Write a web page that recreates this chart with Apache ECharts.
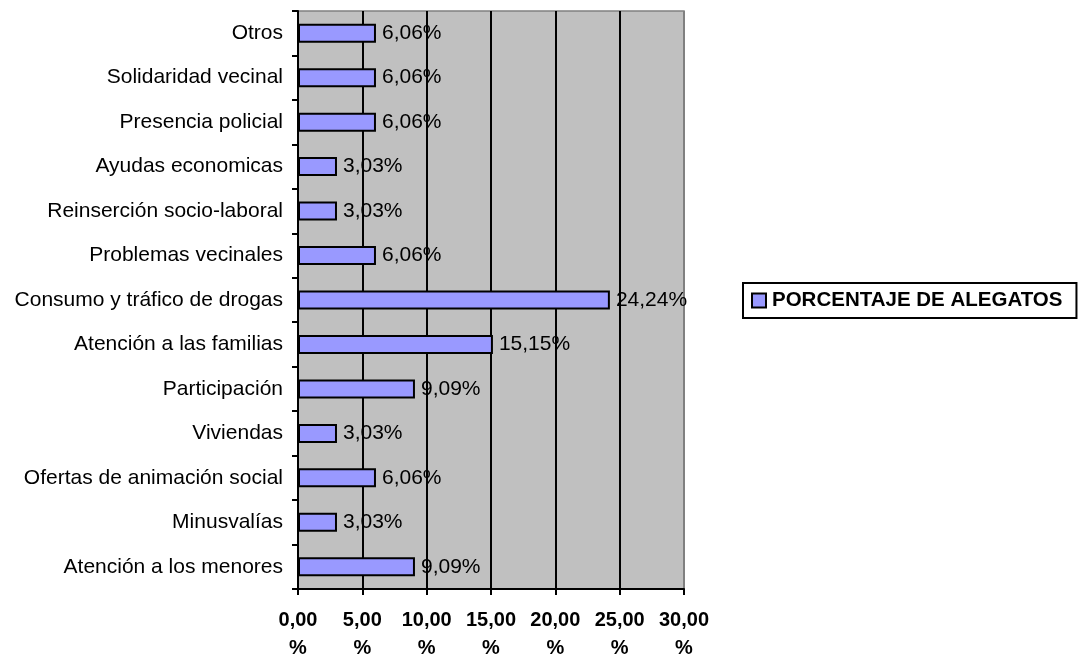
<!DOCTYPE html>
<html>
<head>
<meta charset="utf-8">
<script src="https://cdn.jsdelivr.net/npm/echarts@6/dist/echarts.min.js"></script>
<style>
html,body{margin:0;padding:0;background:#fff;overflow:hidden;}
#c{width:1079px;height:656px;}
</style>
</head>
<body>
<div id="c"></div>
<script>
var categories = ["Atención a los menores","Minusvalías","Ofertas de animación social","Viviendas","Participación","Atención a las familias","Consumo y tráfico de drogas","Problemas vecinales","Reinserción socio-laboral","Ayudas economicas","Presencia policial","Solidaridad vecinal","Otros"];
var values = [9.09,3.03,6.06,3.03,9.09,15.15,24.24,6.06,3.03,3.03,6.06,6.06,6.06];
var seriesName = "PORCENTAJE DE ALEGATOS";
var xMin = 0, xMax = 30, xStep = 5;

function fmt(v){ return v.toFixed(2).replace('.', ','); }

var chart = echarts.init(document.getElementById('c'), null, {renderer:'canvas'});
chart.setOption({
  animation: false,
  textStyle: {fontFamily: 'Liberation Sans, Arial, sans-serif'},
  grid: {left: 298, top: 11, width: 386, height: 578, show: true, backgroundColor: '#C0C0C0', borderColor: '#808080', borderWidth: 1.5, containLabel: false, outerBoundsMode: 'none'},
  legend: {
    show: true, data: [seriesName], left: 743, top: 283,
    orient: 'vertical',
    borderColor: '#000', borderWidth: 2, padding: [7, 14, 7, 8],
    itemWidth: 14, itemHeight: 14, itemGap: 0,
    icon: 'rect',
    textStyle: {fontSize: 20.5, fontWeight: 'bold', color: '#000', fontFamily: 'Liberation Sans, Arial, sans-serif', padding: [0,0,0,1]}
  },
  xAxis: {
    type: 'value', min: xMin, max: xMax, interval: xStep,
    axisLine: {show: true, lineStyle: {color: '#000', width: 2}},
    axisTick: {show: true, length: 6, lineStyle: {color: '#000', width: 2}},
    splitLine: {show: true, lineStyle: {color: ['#000','#000','#000','#000','#000','#000','#808080'], width: 2}},
    axisLabel: {
      margin: 17, fontSize: 20, fontWeight: 'bold', color: '#000', lineHeight: 28,
      fontFamily: 'Liberation Sans, Arial, sans-serif',
      formatter: function(v){ return fmt(v) + '\n%'; }
    }
  },
  yAxis: {
    type: 'category', data: categories,
    axisLine: {show: true, lineStyle: {color: '#000', width: 2}},
    axisTick: {show: true, length: 6, lineStyle: {color: '#000', width: 2}},
    splitLine: {show: false},
    axisLabel: {margin: 15, fontSize: 21, color: '#000', fontFamily: 'Liberation Sans, Arial, sans-serif'}
  },
  series: [{
    name: seriesName, type: 'bar', data: values, barWidth: 19,
    itemStyle: {color: '#9999FF', borderColor: '#000', borderWidth: 2},
    label: {show: true, position: 'right', distance: 6, fontSize: 21, color: '#000',
      fontFamily: 'Liberation Sans, Arial, sans-serif',
      formatter: function(p){ return fmt(p.value) + '%'; }}
  }]
});
</script>
</body>
</html>
